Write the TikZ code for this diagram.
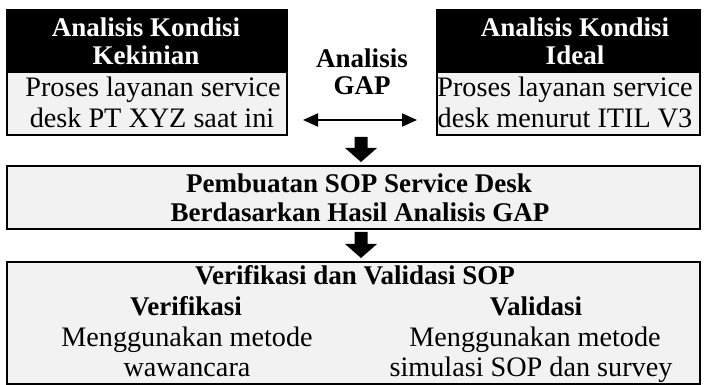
\documentclass[tikz,border=0pt]{standalone}
\usepackage{fontspec}
\setmainfont{Liberation Serif}
\usetikzlibrary{arrows.meta,calc}
\definecolor{boxgrey}{HTML}{F2F2F2}
\begin{document}
\begin{tikzpicture}[x=1pt,y=-1pt,
  hdr/.style={fill=black,draw=black,line width=2.4pt,inner sep=0pt,anchor=north west},
  body/.style={fill=boxgrey,draw=black,line width=2.4pt,inner sep=0pt,anchor=north west},
  txt/.style={anchor=base,inner sep=0pt,font=\fontsize{28.2}{31}\selectfont},
  btxt/.style={anchor=base,inner sep=0pt,font=\fontsize{27}{31}\selectfont\bfseries},
  wtxt/.style={btxt,text=white},
  block arrow/.style={fill=black,to path={let \p1=(\tikztostart), \p2=(\tikztotarget) in
     (\x1-6.5pt,\y1) -- (\x1+6.5pt,\y1) -- (\x1+6.5pt,\y2+14pt) -- (\x1+16pt,\y2+14pt)
     -- (\x2,\y2) -- (\x1-16pt,\y2+14pt) -- (\x1-6.5pt,\y2+14pt) -- cycle}},
  gaparrow/.style={line width=2pt,{Triangle[length=15pt,width=13pt]}-{Triangle[length=15pt,width=13pt]}}]
\useasboundingbox (0,0) rectangle (705,385);

% top left
\node[hdr,minimum width=280pt,minimum height=62pt] (lh) at (6,9) {};
\node[body,minimum width=280pt,minimum height=63pt] (lb) at (6,71) {};
% top right
\node[hdr,minimum width=263pt,minimum height=62pt] (rh) at (436,9) {};
\node[body,minimum width=263pt,minimum height=63pt] (rb) at (436,71) {};
% middle
\node[body,minimum width=693pt,minimum height=63pt] (mid) at (6,165) {};
% bottom
\node[body,minimum width=693pt,minimum height=122pt] (bot) at (6,261) {};

% texts top left
\node[wtxt] (lh1) at (146,37) {Analisis Kondisi};
\node[wtxt] (lh2) at (146,65) {Kekinian};
\node[txt] (lb1) at (153,97) {Proses layanan service};
\node[txt] (lb2) at (152,128) {desk PT XYZ saat ini};
% texts top right
\node[wtxt] (rh1) at (575,37) {Analisis Kondisi};
\node[wtxt] (rh2) at (575,65) {Ideal};
\node[txt] (rb1) at (565,97) {Proses layanan service};
\node[txt] (rb2) at (565,128) {desk menurut ITIL V3};
% gap
\node[btxt] (g1) at (362,68) {Analisis};
\node[btxt] (g2) at (362,95) {GAP};
\coordinate (gl) at (303,120);
\coordinate (gr) at (417,120);
\draw[gaparrow] (gl) -- (gr);
% middle texts
\node[btxt] (m1) at (359,193) {Pembuatan SOP Service Desk};
\node[btxt] (m2) at (360,222) {Berdasarkan Hasil Analisis GAP};
% bottom texts
\node[btxt] (b0) at (355,284) {Verifikasi dan Validasi SOP};
\node[btxt] (bv1) at (186,315) {Verifikasi};
\node[txt] (bv2) at (187,346) {Menggunakan metode};
\node[txt] (bv3) at (187,376) {wawancara};
\node[btxt] (bw1) at (536,315) {Validasi};
\node[txt] (bw2) at (535,346) {Menggunakan metode};
\node[txt] (bw3) at (531,376) {simulasi SOP dan survey};

% block arrows
\coordinate (a1s) at (361,137);
\coordinate (a1e) at (361,162);
\coordinate (a2s) at (361,232);
\coordinate (a2e) at (361,258);
\path[block arrow] (a1s) to (a1e);
\path[block arrow] (a2s) to (a2e);
\end{tikzpicture}
\end{document}
